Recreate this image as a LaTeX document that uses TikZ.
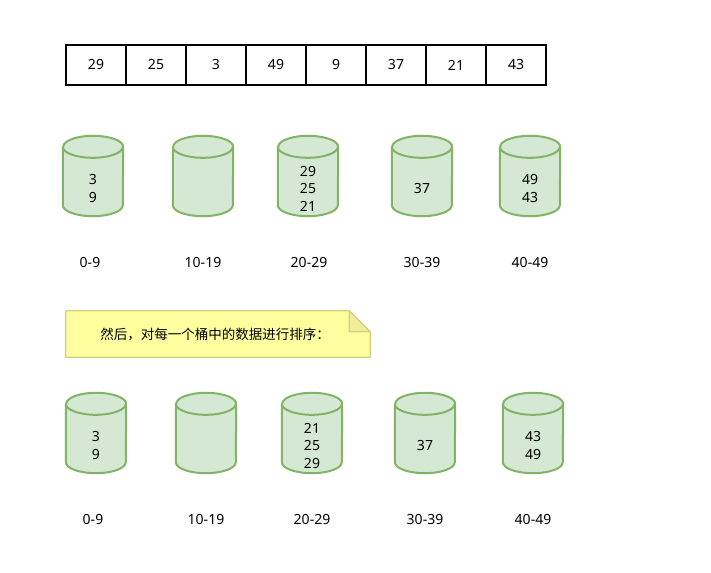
\documentclass[tikz,border=0pt]{standalone}
\usepackage{fontspec}
\setmainfont{Noto Sans}
\newfontfamily\cjk{Noto Sans CJK SC}
\definecolor{bfill}{HTML}{D5E8D4}
\definecolor{bline}{HTML}{82B366}
\definecolor{nfill}{HTML}{FFFFA0}
\definecolor{nline}{HTML}{D0D080}
\definecolor{nfold}{HTML}{EEEE99}
\tikzset{
  cell/.style={draw=black,line width=2bp,minimum width=60bp,minimum height=40bp,inner sep=0pt,
    font=\fontsize{14bp}{17bp}\selectfont},
  bucketbox/.style={minimum width=60bp,minimum height=80bp,inner sep=0pt},
  bucketline/.style={draw=bline,fill=bfill,line width=2bp,line join=round},
  bucketlabel/.style={align=center,inner sep=0pt,font=\fontsize{14bp}{17.5bp}\selectfont},
  rangelabel/.style={inner sep=0pt,font=\fontsize{14bp}{17bp}\selectfont},
  notebox/.style={minimum width=304bp,minimum height=46bp,inner sep=0pt},
}
\newcommand\bucket[4]{%
  \node[bucketbox] (#1) at (#2,#3) {};
  \draw[bucketline] ([yshift=-11bp]#1.north west) -- ([yshift=11bp]#1.south west)
    arc[start angle=180,end angle=360,x radius=30bp,y radius=11bp]
    -- ([yshift=-11bp]#1.north east)
    arc[start angle=0,end angle=180,x radius=30bp,y radius=11bp] -- cycle;
  \draw[bucketline,fill=none] ([yshift=-11bp]#1.north west)
    arc[start angle=180,end angle=360,x radius=30bp,y radius=11bp];
  \node[bucketlabel] (#1t) at ([yshift=-12.5bp]#1.center) {#4};
}
\begin{document}
\begin{tikzpicture}[x=1bp,y=-1bp]
\useasboundingbox (0,0) rectangle (711,573);
% array
\foreach \v [count=\i] in {29,25,3,49,9,37,21,43}{
  \node[cell] (c\i) at ({96+60*(\i-1)},65) {\v};
}
% row 1
\bucket{a1}{93}{176}{3\\9}
\bucket{a2}{203}{176}{}
\bucket{a3}{308}{176}{29\\25\\21}
\bucket{a4}{422}{176}{37}
\bucket{a5}{530}{176}{49\\43}
\node[rangelabel] (l1) at (90,262) {0-9};
\node[rangelabel] (l2) at (203,262) {10-19};
\node[rangelabel] (l3) at (309,262) {20-29};
\node[rangelabel] (l4) at (422,262) {30-39};
\node[rangelabel] (l5) at (530,262) {40-49};
% note
\node[notebox] (note) at (218,334) {};
\draw[draw=nline,fill=nfill,line width=1.2bp,line join=round]
  (note.north west) -- ([xshift=-21bp]note.north east) -- ([yshift=-21bp]note.north east)
  -- (note.south east) -- (note.south west) -- cycle;
\draw[draw=nline,fill=nfold,line width=1.2bp,line join=round]
  ([xshift=-21bp]note.north east) -- ([xshift=-21bp,yshift=-21bp]note.north east)
  -- ([yshift=-21bp]note.north east) -- cycle;
\node[inner sep=0pt,font=\cjk\fontsize{13.5bp}{16bp}\selectfont] (notet) at (215,334) {然后，对每一个桶中的数据进行排序：};
% row 2
\bucket{b1}{96}{433}{3\\9}
\bucket{b2}{206}{433}{}
\bucket{b3}{312}{433}{21\\25\\29}
\bucket{b4}{425}{433}{37}
\bucket{b5}{533}{433}{43\\49}
\node[rangelabel] (m1) at (93,519) {0-9};
\node[rangelabel] (m2) at (206,519) {10-19};
\node[rangelabel] (m3) at (312,519) {20-29};
\node[rangelabel] (m4) at (425,519) {30-39};
\node[rangelabel] (m5) at (533,519) {40-49};
\end{tikzpicture}
\end{document}
